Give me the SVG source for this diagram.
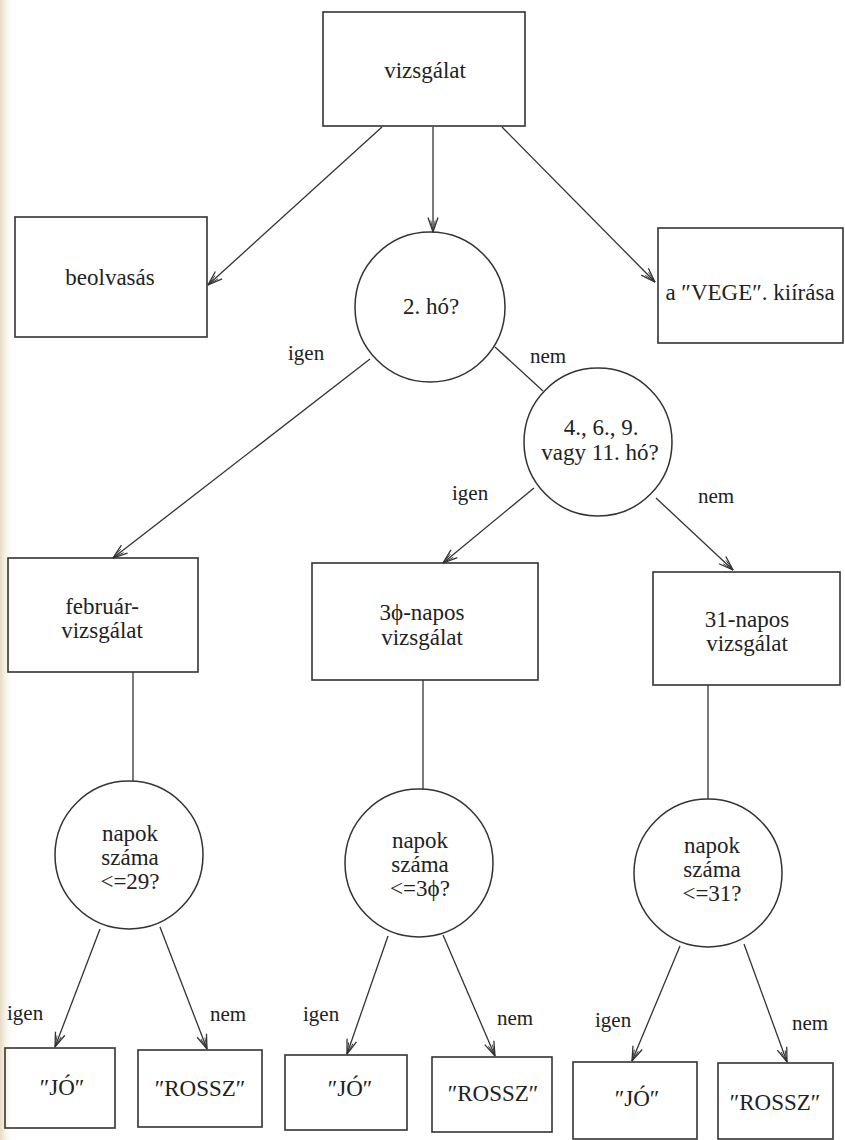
<svg xmlns="http://www.w3.org/2000/svg" width="845" height="1140" viewBox="0 0 845 1140">
  <defs>
    <linearGradient id="pageEdge" x1="0" y1="0" x2="1" y2="0">
      <stop offset="0" stop-color="#e6dbc2"/>
      <stop offset="1" stop-color="#ffffff" stop-opacity="0"/>
    </linearGradient>
    <marker id="arrow" viewBox="0 0 16 12" refX="15.5" refY="6" markerWidth="16" markerHeight="12" markerUnits="userSpaceOnUse" orient="auto">
      <path d="M1,1 L15.5,6 L1,11" fill="none" stroke="#333333" stroke-width="1.3"/>
      <path d="M4,3.8 L15.5,6 L4,8.2" fill="none" stroke="#333333" stroke-width="0.9"/>
    </marker>
    <style>
      .box { fill: none; stroke: #333333; stroke-width: 1.6; }
      .dec { fill: none; stroke: #333333; stroke-width: 1.5; }
      .edge { fill: none; stroke: #333333; stroke-width: 1.3; }
      .arr { marker-end: url(#arrow); }
      text { font-size: 23px; fill: #222222; }
      .c { text-anchor: middle; }
      .lbl { font-size: 21px; }
    </style>
  </defs>

  <rect width="845" height="1140" fill="#ffffff"/>
  <rect width="14" height="1140" fill="url(#pageEdge)"/>

  <g font-family="'Liberation Serif', 'Times New Roman', 'DejaVu Serif', serif">
  <!-- connectors -->
  <g id="connectors">
    <line class="edge arr" x1="382" y1="127" x2="208" y2="285"/>
    <line class="edge arr" x1="433" y1="127" x2="433" y2="232"/>
    <line class="edge arr" x1="502" y1="127" x2="655" y2="282"/>

    <line class="edge arr" x1="370" y1="359" x2="113" y2="558"/>
    <line class="edge" x1="495" y1="347" x2="543" y2="391"/>

    <line class="edge arr" x1="534" y1="488" x2="443" y2="563"/>
    <line class="edge arr" x1="656" y1="498" x2="733" y2="570"/>

    <line class="edge" x1="133" y1="672" x2="133" y2="781"/>
    <line class="edge" x1="423" y1="680" x2="423" y2="789"/>
    <line class="edge" x1="708" y1="685" x2="708" y2="799"/>

    <line class="edge arr" x1="100" y1="929" x2="55" y2="1047"/>
    <line class="edge arr" x1="160" y1="927" x2="207" y2="1049"/>
    <line class="edge arr" x1="388" y1="936" x2="347" y2="1054"/>
    <line class="edge arr" x1="443" y1="935" x2="495" y2="1056"/>
    <line class="edge arr" x1="680" y1="946" x2="632" y2="1061"/>
    <line class="edge arr" x1="744" y1="944" x2="787" y2="1062"/>

    <text class="lbl" x="288" y="360">igen</text>
    <text class="lbl" x="530" y="363">nem</text>
    <text class="lbl" x="452" y="500">igen</text>
    <text class="lbl" x="698" y="503">nem</text>
    <text class="lbl" x="7" y="1020">igen</text>
    <text class="lbl" x="210" y="1021">nem</text>
    <text class="lbl" x="303" y="1021">igen</text>
    <text class="lbl" x="497" y="1025">nem</text>
    <text class="lbl" x="595" y="1027">igen</text>
    <text class="lbl" x="792" y="1030">nem</text>
  </g>

  <!-- process boxes -->
  <g id="vizsgalat">
    <rect class="box" x="323" y="12" width="202" height="114"/>
    <text class="c" x="425" y="78">vizsgálat</text>
  </g>
  <g id="beolvasas">
    <rect class="box" x="15" y="217" width="192" height="120"/>
    <text class="c" x="110" y="285">beolvasás</text>
  </g>
  <g id="vege-kiirasa">
    <rect class="box" x="658" y="228" width="185" height="115"/>
    <text class="c" x="750" y="300">a ″VEGE″. kiírása</text>
  </g>

  <!-- month decisions -->
  <g id="ho-2">
    <circle class="dec" cx="430" cy="307" r="75"/>
    <text class="c" x="431" y="314">2. hó?</text>
  </g>
  <g id="ho-30">
    <circle class="dec" cx="598" cy="442" r="74"/>
    <text class="c" x="601" y="435">4., 6., 9.</text>
    <text class="c" x="600" y="460">vagy 11. hó?</text>
  </g>

  <!-- day-count checks -->
  <g id="februar-vizsgalat">
    <rect class="box" x="8" y="558" width="190" height="114"/>
    <text class="c" x="102" y="614">február-</text>
    <text class="c" x="102" y="638">vizsgálat</text>
  </g>
  <g id="napos-30-vizsgalat">
    <rect class="box" x="312" y="563" width="226" height="117"/>
    <text class="c" x="422" y="620">3ϕ-napos</text>
    <text class="c" x="422" y="645">vizsgálat</text>
  </g>
  <g id="napos-31-vizsgalat">
    <rect class="box" x="653" y="572" width="187" height="113"/>
    <text class="c" x="747" y="627">31-napos</text>
    <text class="c" x="747" y="651">vizsgálat</text>
  </g>

  <!-- day limits -->
  <g id="napok-29">
    <circle class="dec" cx="129" cy="855" r="74"/>
    <text class="c" x="130" y="841">napok</text>
    <text class="c" x="130" y="865">száma</text>
    <text class="c" x="130" y="889">&lt;=29?</text>
  </g>
  <g id="napok-30">
    <circle class="dec" cx="419" cy="863" r="74"/>
    <text class="c" x="420" y="848">napok</text>
    <text class="c" x="420" y="872">száma</text>
    <text class="c" x="420" y="896">&lt;=3ϕ?</text>
  </g>
  <g id="napok-31">
    <circle class="dec" cx="708" cy="873" r="74"/>
    <text class="c" x="712" y="853">napok</text>
    <text class="c" x="712" y="877">száma</text>
    <text class="c" x="712" y="901">&lt;=31?</text>
  </g>

  <!-- results -->
  <g id="jo-1">
    <rect class="box" x="5" y="1048" width="110" height="80"/>
    <text class="c" x="62" y="1095">″JÓ″</text>
  </g>
  <g id="rossz-1">
    <rect class="box" x="138" y="1050" width="124" height="77"/>
    <text class="c" x="200" y="1096">″ROSSZ″</text>
  </g>
  <g id="jo-2">
    <rect class="box" x="285" y="1055" width="122" height="75"/>
    <text class="c" x="350" y="1096">″JÓ″</text>
  </g>
  <g id="rossz-2">
    <rect class="box" x="432" y="1057" width="120" height="75"/>
    <text class="c" x="493" y="1101">″ROSSZ″</text>
  </g>
  <g id="jo-3">
    <rect class="box" x="573" y="1062" width="124" height="77"/>
    <text class="c" x="637" y="1106">″JÓ″</text>
  </g>
  <g id="rossz-3">
    <rect class="box" x="718" y="1063" width="115" height="76"/>
    <text class="c" x="775" y="1110">″ROSSZ″</text>
  </g>
  </g>
</svg>
